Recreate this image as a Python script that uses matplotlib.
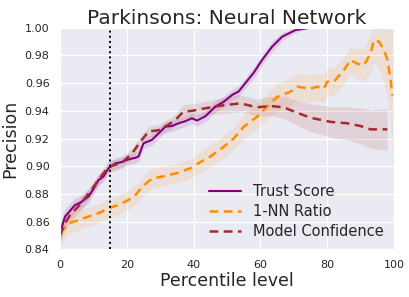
"""
Parkinsons: Neural Network - precision vs percentile level
"""

import matplotlib
matplotlib.use('Agg')
import matplotlib.pyplot as plt
import numpy as np
import seaborn as sns

sns.set_style('darkgrid')
plt.rcParams['font.family'] = ['DejaVu Sans']

# Trust Score (purple, solid)
trust_x = [0, 1.5, 4.5, 6, 8.5, 10, 11.5, 13, 14.5, 16.5, 18.5, 20, 21.5, 22.5, 23.5,
           25, 27.5, 28.5, 31.5, 33.5, 35.5, 37.5, 39.5, 41, 43.5, 46.5, 49, 51.5,
           53.5, 55.5, 58, 60.5, 63.5, 66.5, 70.5, 75, 100]
trust_y = [0.8515, 0.8636, 0.872, 0.8735, 0.878, 0.8835, 0.890, 0.8925, 0.8985,
           0.902, 0.903, 0.9045, 0.9055, 0.906, 0.907, 0.9165, 0.919, 0.9213, 0.9285,
           0.929, 0.931, 0.9325, 0.9346, 0.933, 0.936, 0.943, 0.9465, 0.9514, 0.954,
           0.960, 0.9675, 0.9767, 0.9863, 0.9935, 0.9983, 1.0, 1.0]
trust_err = [0.007, 0.006, 0.005, 0.005, 0.005, 0.004, 0.004, 0.004, 0.004, 0.004,
             0.004, 0.004, 0.004, 0.004, 0.004, 0.004, 0.004, 0.004, 0.004, 0.004,
             0.004, 0.004, 0.004, 0.004, 0.004, 0.004, 0.004, 0.004, 0.004, 0.004,
             0.004, 0.004, 0.004, 0.003, 0.002, 0.0, 0.0]

# 1-NN Ratio (orange, dashed)
nn_x = [0, 2.5, 5.5, 8.5, 11.5, 14.5, 17.5, 20.5, 22.5, 25, 27.5, 31.5, 35.5, 39.5,
        42, 45, 49, 52, 55, 59, 63, 65, 69, 71, 75, 77, 79, 80, 82, 85, 87, 89, 91,
        93, 94, 95.5, 97, 98, 99, 99.5]
nn_y = [0.8515, 0.8587, 0.861, 0.8636, 0.866, 0.8696, 0.872, 0.8756, 0.879, 0.886,
        0.891, 0.893, 0.8953, 0.899, 0.903, 0.9069, 0.914, 0.920, 0.9285, 0.9357,
        0.9454, 0.950, 0.9538, 0.9574, 0.956, 0.9574, 0.956, 0.961, 0.961, 0.9695,
        0.9767, 0.974, 0.973, 0.9815, 0.991, 0.990, 0.984, 0.977, 0.962, 0.951]
nn_err = [0.008, 0.008, 0.007, 0.007, 0.007, 0.007, 0.007, 0.007, 0.007, 0.007,
          0.007, 0.007, 0.007, 0.007, 0.008, 0.008, 0.008, 0.008, 0.009, 0.009,
          0.010, 0.010, 0.010, 0.010, 0.010, 0.010, 0.010, 0.010, 0.010, 0.010,
          0.010, 0.011, 0.012, 0.014, 0.016, 0.020, 0.024, 0.028, 0.035, 0.05]

# Model Confidence (brown, dashed)
conf_x = [0, 1.5, 3, 5.5, 8.5, 11.5, 14.5, 16.5, 18.5, 21.5, 24.5, 26.5, 29.5, 32.5,
          34.5, 37, 39.5, 45, 49, 54, 59, 63, 67, 71, 75, 81, 86, 90, 93, 98]
conf_y = [0.850, 0.8587, 0.8647, 0.871, 0.880, 0.890, 0.8996, 0.901, 0.9025, 0.909,
          0.919, 0.925, 0.926, 0.930, 0.9334, 0.9394, 0.940, 0.9425, 0.944, 0.9454,
          0.9425, 0.9435, 0.9425, 0.9386, 0.935, 0.932, 0.931, 0.929, 0.9266, 0.9266]
conf_err = [0.006, 0.005, 0.005, 0.005, 0.004, 0.004, 0.004, 0.004, 0.004, 0.004,
            0.004, 0.004, 0.004, 0.004, 0.004, 0.005, 0.005, 0.005, 0.006, 0.006,
            0.006, 0.007, 0.008, 0.009, 0.010, 0.011, 0.012, 0.013, 0.014, 0.015]

cutoff = 15  # vertical dotted line

x_ticks = [0, 20, 40, 60, 80, 100]
y_ticks = [0.84, 0.86, 0.88, 0.90, 0.92, 0.94, 0.96, 0.98, 1.00]

series = [
    ('Trust Score', trust_x, trust_y, trust_err, 'purple', '-', 1.5),
    ('1-NN Ratio', nn_x, nn_y, nn_err, 'darkorange', '--', 1.8),
    ('Model Confidence', conf_x, conf_y, conf_err, 'brown', '--', 1.8),
]

fig = plt.figure(figsize=(4.1, 2.97), dpi=100)
ax = fig.add_axes([0.1463, 0.1606, 0.8147, 0.7461])

for label, xs, ys, errs, color, ls, lw in series:
    xs = np.array(xs)
    ys = np.array(ys)
    errs = np.array(errs)
    ax.fill_between(xs, ys - errs, ys + errs, color=color, alpha=0.12, linewidth=0)
    ax.plot(xs, ys, color=color, linestyle=ls, linewidth=lw, label=label,
            dashes=(3.5, 2.2) if ls == '--' else (None, None))

ax.axvline(cutoff, color='black', linestyle=':', linewidth=1.4)

ax.set_xlim(0, 100)
ax.set_ylim(0.84, 1.0)
ax.set_xticks(x_ticks)
ax.set_yticks(y_ticks)
ax.set_yticklabels([f'{v:.2f}' for v in y_ticks])
ax.tick_params(labelsize=8, pad=4)

ax.set_title('Parkinsons: Neural Network', fontsize=14.5, color='.15', pad=3)
ax.set_xlabel('Percentile level', fontsize=12.5, color='.15', labelpad=2)
ax.set_ylabel('Precision', fontsize=12.5, color='.15', labelpad=4)

ax.legend(loc='lower right', frameon=False, fontsize=10.5, handlelength=2.2,
          borderaxespad=0.3, labelspacing=0.35)

fig.savefig('out.png', dpi=100)
